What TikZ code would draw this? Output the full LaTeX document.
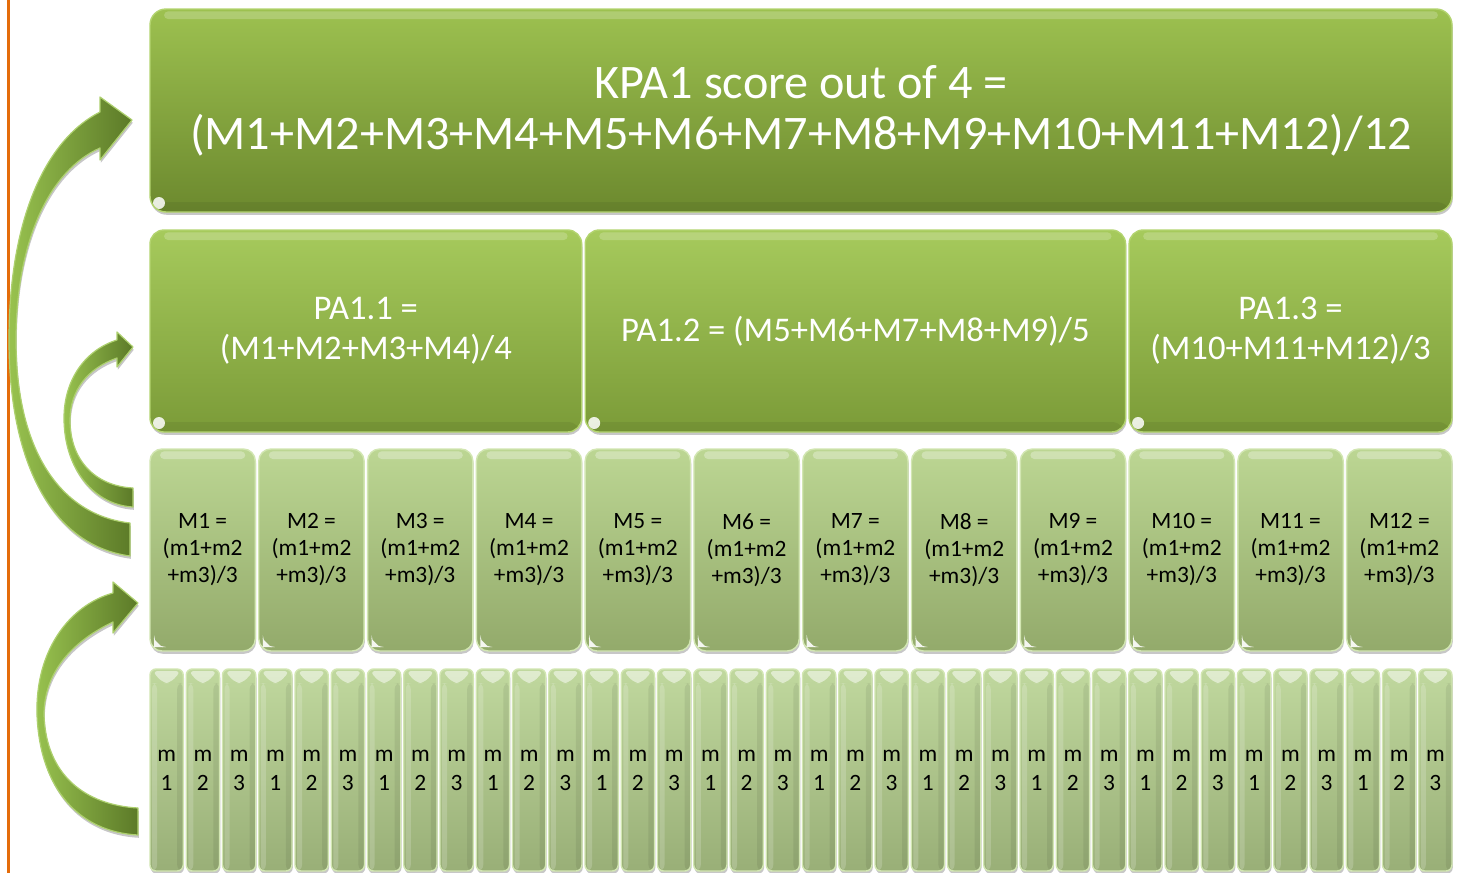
\documentclass[tikz,border=0pt]{standalone}
\usepackage{fontspec}
\setmainfont{Carlito}
\usetikzlibrary{shadows}
\definecolor{orangeline}{HTML}{E46C0A}
\definecolor{topA}{HTML}{9DC150}
\definecolor{topB}{HTML}{6C892E}
\definecolor{topEdge}{HTML}{B3D46F}
\definecolor{paA}{HTML}{A6CA5C}
\definecolor{paB}{HTML}{7B9B38}
\definecolor{mA}{HTML}{BCD693}
\definecolor{mB}{HTML}{93AA6B}
\definecolor{mEdge}{HTML}{D2E6B2}
\definecolor{sA}{HTML}{C0D89E}
\definecolor{sB}{HTML}{99AF77}
\definecolor{arrA}{HTML}{98C24F}
\definecolor{arrB}{HTML}{5C7A28}
\definecolor{arrEdge}{HTML}{ADD06E}
\tikzset{
  shadowed/.style={drop shadow={shadow xshift=0.4pt,shadow yshift=-1.4pt,opacity=0.22,fill=black}},
  bevel/.style={path picture={
      \fill[white,opacity=0.2,rounded corners=2pt]
        ([xshift=7pt,yshift=-1.2pt]path picture bounding box.north west) rectangle
        ([xshift=-7pt,yshift=-5pt]path picture bounding box.north east);
      \fill[black,opacity=0.06]
        ([yshift=5pt]path picture bounding box.south west) rectangle
        (path picture bounding box.south east);
      \fill[white,opacity=0.85]
        ([xshift=4.5pt,yshift=4.5pt]path picture bounding box.south west) circle (3pt);
  }},
  topbox/.style={shadowed,rounded corners=8pt,top color=topA,bottom color=topB,draw=topEdge,
    line width=0.7pt,text=white,align=center,inner sep=0pt,bevel,
    font=\fontsize{24.1pt}{25.5pt}\selectfont},
  pabox/.style={shadowed,rounded corners=7pt,top color=paA,bottom color=paB,draw=topEdge,
    line width=0.7pt,text=white,align=center,inner sep=0pt,bevel,minimum height=101pt,
    font=\fontsize{17.3pt}{20pt}\selectfont},
  mbox/.style={shadowed,rounded corners=6pt,top color=mA,bottom color=mB,draw=mEdge,
    line width=0.7pt,text=black,align=center,inner sep=0pt,minimum height=101pt,
    minimum width=52.65pt,
    path picture={
      \fill[white,opacity=0.3,rounded corners=2pt]
        ([xshift=5pt,yshift=-1.2pt]path picture bounding box.north west) rectangle
        ([xshift=-5pt,yshift=-5pt]path picture bounding box.north east);
      \fill[white,opacity=0.9]
        ([xshift=2pt,yshift=2pt]path picture bounding box.south west) --
        ([xshift=6pt,yshift=2pt]path picture bounding box.south west) --
        ([xshift=2pt,yshift=6pt]path picture bounding box.south west) -- cycle;
    },
    font=\fontsize{11.7pt}{13.5pt}\selectfont},
  sbox/.style={shadowed,rounded corners=3pt,top color=sA,bottom color=sB,draw=mEdge,
    line width=0.7pt,text=black,align=center,inner sep=0pt,minimum height=101pt,
    minimum width=16.6pt,
    path picture={
      \fill[white,opacity=0.5]
        ([xshift=1pt,yshift=-1pt]path picture bounding box.north west) --
        ([xshift=-1pt,yshift=-1pt]path picture bounding box.north east) --
        ([xshift=-6.5pt,yshift=-7pt]path picture bounding box.north east) --
        ([xshift=6.5pt,yshift=-7pt]path picture bounding box.north west) -- cycle;
      \fill[white,opacity=0.18]
        ([xshift=1pt,yshift=-7pt]path picture bounding box.north west) rectangle
        ([xshift=3.5pt]path picture bounding box.south west);
      \fill[black,opacity=0.07]
        ([xshift=-3pt,yshift=-7pt]path picture bounding box.north east) rectangle
        (path picture bounding box.south east);
    },
    font=\fontsize{11.7pt}{14.5pt}\selectfont},
  blockarrow/.style={shadowed,left color=arrA,right color=arrB,draw=arrEdge,line width=0.6pt,
    line join=round}
}
\begin{document}
\begin{tikzpicture}[x=0.5pt,y=-0.5pt]
\useasboundingbox (0,0) rectangle (1464,873);
\fill[white] (0,0) rectangle (1464,873);
\begin{scope}
\clip (0,0) rectangle (1464,873);
% orange rule at the left
\draw[orangeline,line width=1.1pt] (8.5,0) -- (8.5,873);

% top box
\node[topbox,minimum width=651pt,minimum height=101.5pt] (kpa) at (801,110.5)
  {KPA1 score out of 4 =\\(M1+M2+M3+M4+M5+M6+M7+M8+M9+M10+M11+M12)/12};

% performance areas
\node[pabox,minimum width=215.85pt] (pa1) at (365.85,331) {PA1.1 =\\(M1+M2+M3+M4)/4};
\node[pabox,minimum width=270.2pt] (pa2) at (855.4,331) {PA1.2 = (M5+M6+M7+M8+M9)/5};
\node[pabox,minimum width=161.45pt] (pa3) at (1290.55,331) {PA1.3 =\\(M10+M11+M12)/3};

% measures
\foreach \i in {1,...,12} {
  \node[mbox] (M\i) at ({202.65+108.79*(\i-1)},550) {M\i{} =\\(m1+m2\\+m3)/3};
}

% sub-measures
\foreach \i in {1,...,36} {
  \pgfmathtruncatemacro\k{mod(\i-1,3)+1}
  \node[sbox] (s\i) at ({166.6+36.25*(\i-1)},770) {m\\\k};
}

% curved block arrows
\path[blockarrow] (130,556) .. controls (50,545) and (9,460) .. (9,340)
  .. controls (9,220) and (45,140) .. (100,112) -- (100,97) -- (132,120) -- (100,160)
  -- (100,148) .. controls (50,170) and (16,240) .. (16,340)
  .. controls (16,450) and (60,515) .. (130,523) -- cycle;

\path[blockarrow] (133,507) .. controls (95,505) and (64,470) .. (64,418)
  .. controls (64,380) and (85,350) .. (117,340) -- (117,332) -- (133,347) -- (117,367)
  -- (117,358) .. controls (88,368) and (70,390) .. (70,420)
  .. controls (70,460) and (95,486) .. (133,488) -- cycle;

\path[blockarrow] (138,835) .. controls (80,832) and (40,790) .. (37,715)
  .. controls (35,650) and (70,605) .. (113,593) -- (113,582) -- (138,603) -- (113,633)
  -- (113,622) .. controls (75,640) and (44,670) .. (44,715)
  .. controls (46,775) and (85,805) .. (138,808) -- cycle;
\end{scope}
\end{tikzpicture}
\end{document}
